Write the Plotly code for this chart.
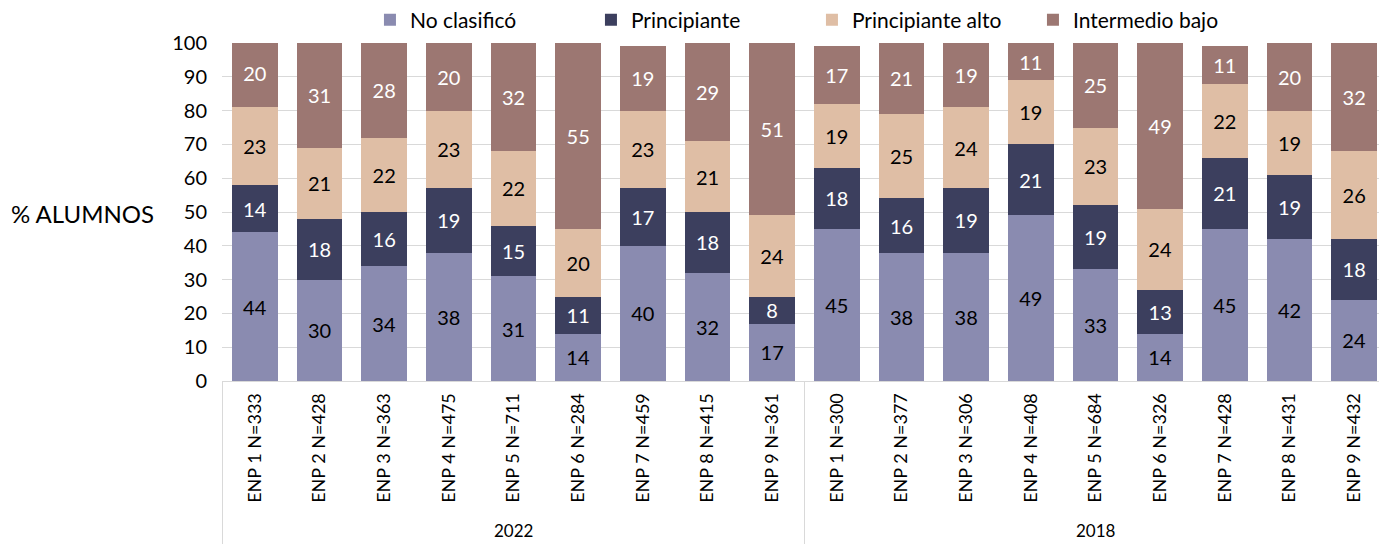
import plotly.graph_objects as go

# Categories (x axis) and groups
years = ["2022", "2018"]
schools_2022 = ["ENP 1 N=333", "ENP 2 N=428", "ENP 3 N=363", "ENP 4 N=475", "ENP 5 N=711",
                "ENP 6 N=284", "ENP 7 N=459", "ENP 8 N=415", "ENP 9 N=361"]
schools_2018 = ["ENP 1 N=300", "ENP 2 N=377", "ENP 3 N=306", "ENP 4 N=408", "ENP 5 N=684",
                "ENP 6 N=326", "ENP 7 N=428", "ENP 8 N=431", "ENP 9 N=432"]
categories = schools_2022 + schools_2018

# Series values (% alumnos)
no_clasifico = [44, 30, 34, 38, 31, 14, 40, 32, 17, 45, 38, 38, 49, 33, 14, 45, 42, 24]
principiante = [14, 18, 16, 19, 15, 11, 17, 18, 8, 18, 16, 19, 21, 19, 13, 21, 19, 18]
principiante_alto = [23, 21, 22, 23, 22, 20, 23, 21, 24, 19, 25, 24, 19, 23, 24, 22, 19, 26]
intermedio_bajo = [20, 31, 28, 20, 32, 55, 19, 29, 51, 17, 21, 19, 11, 25, 49, 11, 20, 32]

yticks = list(range(0, 101, 10))

FONT = "Lato"

series = [
    ("No clasificó", no_clasifico, "#8A8BB0", "black"),
    ("Principiante", principiante, "#3C3F5E", "white"),
    ("Principiante alto", principiante_alto, "#DFBEA5", "black"),
    ("Intermedio bajo", intermedio_bajo, "#9C7772", "white"),
]

fig = go.Figure()
for name, vals, color, tcolor in series:
    fig.add_trace(go.Bar(
        name=name, x=categories, y=vals,
        marker=dict(color=color, line=dict(width=0)),
        text=vals, textposition="inside", insidetextanchor="middle",
        textangle=0, constraintext="none",
        textfont=dict(family=FONT, size=20, color=tcolor),
    ))

# page body has an 8px margin, so the figure is 8px smaller than the window
fig.update_layout(
    barmode="stack",
    bargap=0.29,
    width=1379, height=536,
    margin=dict(l=214, r=0, t=35, b=163, autoexpand=False),
    plot_bgcolor="white", paper_bgcolor="white",
    font=dict(family=FONT, size=20, color="black"),
    legend=dict(orientation="h", x=0.127, xanchor="left", y=1.007, yanchor="bottom",
                font=dict(size=21), itemwidth=30, entrywidth=176, traceorder="normal"),
    uniformtext=dict(minsize=10, mode="show"),
)

fig.update_xaxes(
    type="category", tickangle=-90, tickfont=dict(size=18),
    showline=True, linecolor="#D9D9D9", linewidth=1,
    ticks="", showgrid=False, ticklabelstandoff=4, automargin=False,
)
fig.update_yaxes(
    range=[0, 100], tickvals=yticks, showgrid=True, gridcolor="#D9D9D9",
    zeroline=False, showline=False, ticks="", ticklabelstandoff=14, automargin=False,
)

# group box lines below the axis
n1 = len(schools_2022)
for xpos in [-0.5, n1 - 0.5, len(categories) - 0.5]:
    fig.add_shape(type="line", xref="x", yref="paper", x0=xpos, x1=xpos, y0=0, y1=-0.49,
                  line=dict(color="#D9D9D9", width=1))

# year labels
fig.add_annotation(x=categories[(n1 - 1) // 2], y=-0.441, xref="x", yref="paper",
                   text=years[0], showarrow=False, yanchor="middle", font=dict(size=17))
fig.add_annotation(x=categories[n1 + (len(schools_2018) - 1) // 2], y=-0.441, xref="x", yref="paper",
                   text=years[1], showarrow=False, yanchor="middle", font=dict(size=17))

# y axis title, horizontal
fig.add_annotation(x=-0.057, y=0.497, xref="paper", yref="paper", text="% ALUMNOS",
                   showarrow=False, xanchor="right", yanchor="middle", font=dict(size=24))

fig.write_html("out.html")
